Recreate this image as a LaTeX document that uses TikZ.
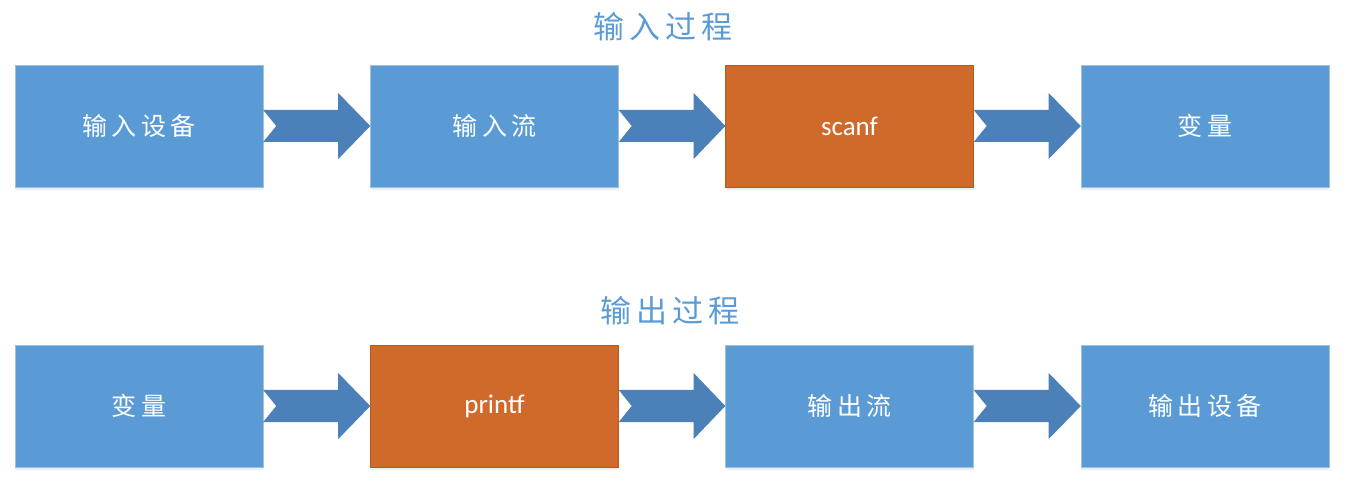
\documentclass[tikz,border=0pt]{standalone}
\usepackage{fontspec}
\setmainfont{Carlito}
\newfontfamily\cjk[LetterSpace=17]{Noto Sans CJK SC}
\usetikzlibrary{calc,shadows}
\definecolor{boxblue}{HTML}{5B9BD5}
\definecolor{boxorange}{HTML}{D06A2B}
\definecolor{arrowblue}{HTML}{4C80B9}
\definecolor{titleblue}{HTML}{5B9BD5}
\tikzset{
  box/.style={rectangle, minimum width=248pt, minimum height=122pt, inner sep=0pt,
    text=white, font=\cjk\fontsize{25}{28}\selectfont,
    drop shadow={shadow xshift=0pt, shadow yshift=-3pt, opacity=0.15, fill=boxblue}},
  bluebox/.style={box, fill=boxblue, draw=boxblue!80!gray!60},
  orangebox/.style={box, fill=boxorange, draw=boxorange!85!black, font=\fontsize{27}{30}\selectfont},
  title/.style={text=titleblue, font=\cjk\fontsize{31}{34}\selectfont, inner sep=0pt},
}
\newcommand{\chevron}[2]{%
  \fill[arrowblue] (#1.east) ++(0,16pt) -- ++(75pt,0) -- ++(0,17pt) -- (#2.west)
    -- ($(#1.east)+(75pt,-33pt)$) -- ++(0,17pt) -- ($(#1.east)+(0,-16pt)$)
    -- ($(#1.east)+(13pt,0)$) -- cycle;}
\begin{document}
\begin{tikzpicture}[x=1pt,y=1pt]
\useasboundingbox (0,0) rectangle (1346,482);
\node[title] (t1) at (663,455) {输入过程};
\node[bluebox] (a1) at (139,356) {输入设备};
\node[bluebox] (a2) at (494.5,356) {输入流};
\node[orangebox] (a3) at (849.5,356) {scanf};
\node[bluebox] (a4) at (1205,356) {变量};
\chevron{a1}{a2}
\chevron{a2}{a3}
\chevron{a3}{a4}
\node[title] (t2) at (670,171) {输出过程};
\node[bluebox] (b1) at (139,76) {变量};
\node[orangebox] (b2) at (494.5,76) {printf};
\node[bluebox] (b3) at (849.5,76) {输出流};
\node[bluebox] (b4) at (1205,76) {输出设备};
\chevron{b1}{b2}
\chevron{b2}{b3}
\chevron{b3}{b4}
\end{tikzpicture}
\end{document}
